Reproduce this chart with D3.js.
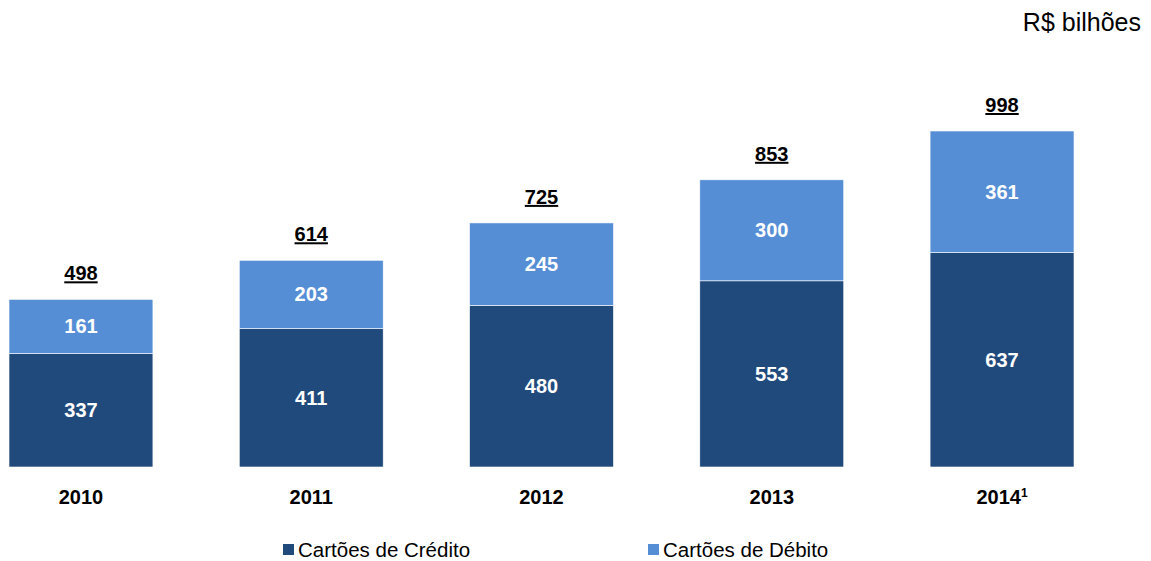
<!DOCTYPE html>
<html>
<head>
<meta charset="utf-8">
<script src="https://cdn.jsdelivr.net/npm/d3@7"></script>
<style>
  body { margin: 0; background: #fff; }
  svg text { font-family: "Liberation Sans", Arial, sans-serif; }
</style>
</head>
<body>
<div id="chart"></div>
<script>
// data
var years = ["2010", "2011", "2012", "2013", "2014"];
var credito = [337, 411, 480, 553, 637];
var debito = [161, 203, 245, 300, 361];
var totals = [498, 614, 725, 853, 998];
var seriesNames = ["Cartões de Crédito", "Cartões de Débito"];

var width = 1151, height = 561;
var colors = ["#214a7c", "#558ed5"];

var svg = d3.select("#chart")
  .append("svg")
    .attr("width", width)
    .attr("height", height);

var x = d3.scaleBand()
  .domain(years)
  .range([9, 1074])
  .paddingInner(0.375)
  .paddingOuter(0);

var y = d3.scaleLinear()
  .domain([0, 998])
  .range([467, 131]);

// stack the two series
var rows = years.map(function(yr, i) {
  return { year: yr, credito: credito[i], debito: debito[i], total: totals[i] };
});
var stacked = d3.stack().keys(["credito", "debito"])(rows);

var layers = svg.selectAll(".layer")
  .data(stacked)
  .enter()
  .append("g")
    .attr("class", "layer")
    .attr("fill", function(d, i) { return colors[i]; });

layers.selectAll("rect")
  .data(function(d) { return d; })
  .enter()
  .append("rect")
    .attr("x", function(d) { return x(d.data.year); })
    .attr("y", function(d) { return y(d[1]); })
    .attr("width", x.bandwidth())
    .attr("height", function(d) { return y(d[0]) - y(d[1]); })
    .attr("stroke", "#ffffff")
    .attr("stroke-width", 0.6);

// values inside the segments
layers.selectAll(".val")
  .data(function(d) { return d; })
  .enter()
  .append("text")
    .attr("class", "val")
    .attr("x", function(d) { return x(d.data.year) + x.bandwidth() / 2; })
    .attr("y", function(d) { return (y(d[0]) + y(d[1])) / 2; })
    .attr("dy", "0.35em")
    .attr("text-anchor", "middle")
    .attr("fill", "#ffffff")
    .attr("font-size", "20px")
    .attr("font-weight", "bold")
    .text(function(d) { return d[1] - d[0]; });

// totals above bars, underlined
svg.selectAll(".total")
  .data(rows)
  .enter()
  .append("text")
    .attr("class", "total")
    .attr("x", function(d) { return x(d.year) + x.bandwidth() / 2; })
    .attr("y", function(d) { return y(d.total) - 19; })
    .attr("text-anchor", "middle")
    .attr("font-size", "20px")
    .attr("font-weight", "bold")
    .attr("fill", "#000")
    .style("text-decoration", "underline")
    .text(function(d) { return d.total; });

// year labels
var yearText = svg.selectAll(".year")
  .data(years)
  .enter()
  .append("text")
    .attr("class", "year")
    .attr("x", function(d) { return x(d) + x.bandwidth() / 2; })
    .attr("y", 504)
    .attr("text-anchor", "middle")
    .attr("font-size", "20px")
    .attr("font-weight", "bold")
    .attr("fill", "#000")
    .text(function(d) { return d; });

// footnote mark on the last year
yearText.filter(function(d, i) { return i === years.length - 1; })
  .append("tspan")
    .attr("font-size", "12px")
    .attr("dy", "-7")
    .text("1");

// unit title
svg.append("text")
  .attr("x", 1141)
  .attr("y", 31)
  .attr("text-anchor", "end")
  .attr("font-size", "25px")
  .attr("fill", "#000")
  .text("R$ bilhões");

// legend
var legendX = [283, 648];
var legend = svg.selectAll(".legend")
  .data(seriesNames)
  .enter()
  .append("g")
    .attr("class", "legend")
    .attr("transform", function(d, i) { return "translate(" + legendX[i] + ",544)"; });

legend.append("rect")
  .attr("width", 11)
  .attr("height", 11)
  .attr("fill", function(d, i) { return colors[i]; });

legend.append("text")
  .attr("x", 15)
  .attr("y", 6)
  .attr("dy", "0.35em")
  .attr("font-size", "20.5px")
  .attr("fill", "#000")
  .text(function(d) { return d; });
</script>
</body>
</html>
